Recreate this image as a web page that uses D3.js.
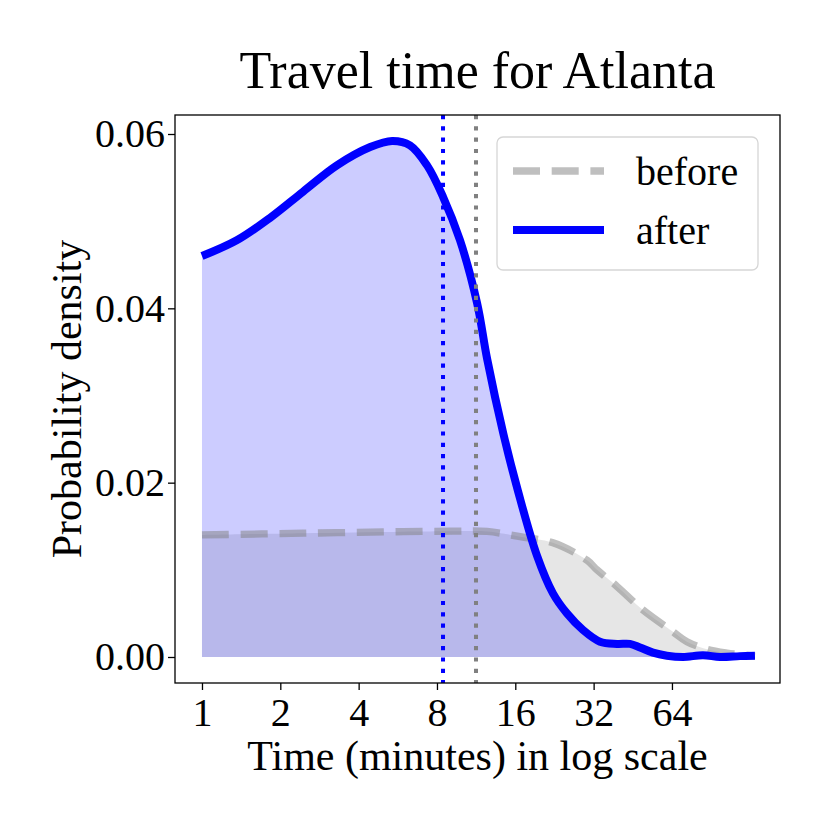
<!DOCTYPE html>
<html>
<head>
<meta charset="utf-8">
<script src="https://cdn.jsdelivr.net/npm/d3@7"></script>
<style>
  body { margin: 0; background: #fff; }
  text { font-family: "Liberation Serif", "DejaVu Serif", serif; fill: #000; }
</style>
</head>
<body>
<div id="chart"></div>
<script>
// travel time (minutes) and density
const afterTime = [1, 1.36, 1.83, 2.45, 3.30, 4.43, 5.38, 6.30, 7.33, 8.44, 9.81, 11.41, 12.47, 14.4, 16.4,
    19.4, 22.33, 25.28, 29.13, 33.85, 39.35, 44.14, 48.23, 54.1, 61.2, 70.6, 84.2, 97.9, 116.8, 133.4];
const afterDensity = [0.0460, 0.0478, 0.0504, 0.0534, 0.0564, 0.0585, 0.0592, 0.0587, 0.0564, 0.0528, 0.0478, 0.0406, 0.0342, 0.0256, 0.0190,
    0.0116, 0.0073, 0.0050, 0.0031, 0.00176, 0.0015, 0.0015, 0.0011, 0.0005, 0.00015, 0.0, 0.0002, 0.0, 0.0001, 0.00015];

const beforeTime = [1, 2.45, 5.92, 9.2, 12.47, 16.7, 22.33, 30.2, 32.96, 39.35, 49.5, 64.6, 73.1, 87.2, 104.1, 133.4];
const beforeDensity = [0.0140, 0.0142, 0.01438, 0.01443, 0.0144, 0.0138, 0.0131, 0.0111, 0.0100, 0.0081, 0.0054, 0.0029, 0.00176, 0.0009, 0.00046, 0.0001];

// dotted vertical markers (minutes)
const afterMarker = 8.44;
const beforeMarker = 11.3;

const xTicks = [1, 2, 4, 8, 16, 32, 64];
const yTicks = [0, 0.02, 0.04, 0.06];
const seriesNames = ["before", "after"];

const W = 830, H = 830;
const plot = {left: 175, right: 780, top: 115, bottom: 683};

const svg = d3.select("#chart").append("svg")
    .attr("width", W)
    .attr("height", H);

const x = d3.scaleLog().base(2)
    .domain([0.7876, 166.5])
    .range([plot.left, plot.right]);
const y = d3.scaleLinear()
    .domain([-0.002983, 0.06218])
    .range([plot.bottom, plot.top]);

const before = beforeTime.map((t, i) => ({t: t, v: beforeDensity[i]}));
const after = afterTime.map((t, i) => ({t: t, v: afterDensity[i]}));

const smooth = d3.curveCatmullRom.alpha(0.5);
const area = d3.area()
    .x(d => x(d.t))
    .y0(y(0))
    .y1(d => y(d.v))
    .curve(smooth);
const line = d3.line()
    .x(d => x(d.t))
    .y(d => y(d.v))
    .curve(smooth);

const g = svg.append("g");

// fills
g.append("path").datum(before)
    .attr("d", area)
    .attr("fill", "gray").attr("fill-opacity", 0.2);
g.append("path").datum(after)
    .attr("d", area)
    .attr("fill", "blue").attr("fill-opacity", 0.2);

// lines
g.append("path").datum(before)
    .attr("d", line)
    .attr("fill", "none")
    .attr("stroke", "gray").attr("stroke-opacity", 0.5)
    .attr("stroke-width", 7.3)
    .attr("stroke-dasharray", "27,11.7");
g.append("path").datum(after)
    .attr("d", line)
    .attr("fill", "none")
    .attr("stroke", "blue")
    .attr("stroke-width", 8)
    .attr("stroke-linejoin", "round");

// median markers
[[afterMarker, "blue"], [beforeMarker, "gray"]].forEach(m => {
    g.append("line")
        .attr("x1", x(m[0])).attr("x2", x(m[0]))
        .attr("y1", plot.top).attr("y2", plot.bottom)
        .attr("stroke", m[1])
        .attr("stroke-width", 4)
        .attr("stroke-dasharray", "4.2,7.1");
});

// axes
const xAxis = d3.axisBottom(x)
    .tickValues(xTicks)
    .tickFormat(d3.format("d"))
    .tickSize(7)
    .tickPadding(8);
const yAxis = d3.axisLeft(y)
    .tickValues(yTicks)
    .tickFormat(d3.format(".2f"))
    .tickSize(7)
    .tickPadding(3);

const gx = svg.append("g")
    .attr("transform", `translate(0, ${plot.bottom})`)
    .call(xAxis);
const gy = svg.append("g")
    .attr("transform", `translate(${plot.left}, 0)`)
    .call(yAxis);

[gx, gy].forEach(a => {
    a.select(".domain").remove();
    a.selectAll(".tick line").attr("stroke", "#000").attr("stroke-width", 1.3);
    a.selectAll(".tick text")
        .style("font-family", '"Liberation Serif", serif')
        .style("font-size", "40px")
        .attr("fill", "#000");
});

// frame
svg.append("rect")
    .attr("x", plot.left).attr("y", plot.top)
    .attr("width", plot.right - plot.left)
    .attr("height", plot.bottom - plot.top)
    .attr("fill", "none")
    .attr("stroke", "#000")
    .attr("stroke-width", 1.3);

// title and labels
const midX = (plot.left + plot.right) / 2;
svg.append("text")
    .attr("x", midX).attr("y", 88)
    .attr("text-anchor", "middle")
    .style("font-size", "52px")
    .text("Travel time for Atlanta");
svg.append("text")
    .attr("x", midX).attr("y", 770)
    .attr("text-anchor", "middle")
    .style("font-size", "42px")
    .text("Time (minutes) in log scale");
svg.append("text")
    .attr("transform", `translate(81, ${(plot.top + plot.bottom) / 2}) rotate(-90)`)
    .attr("text-anchor", "middle")
    .style("font-size", "42px")
    .text("Probability density");

// legend
const legend = svg.append("g").attr("transform", "translate(497, 137)");
legend.append("rect")
    .attr("width", 261).attr("height", 133)
    .attr("rx", 6)
    .attr("fill", "#fff").attr("fill-opacity", 0.8)
    .attr("stroke", "#d6d6d6").attr("stroke-width", 1.3);

const legendStyle = {
    before: {stroke: "gray", opacity: 0.5, width: 7.3, dash: "27,11.7"},
    after: {stroke: "blue", opacity: 1, width: 8, dash: null}
};
seriesNames.forEach((name, i) => {
    let s = legendStyle[name];
    let ly = 34 + i * 59;
    legend.append("line")
        .attr("x1", 16).attr("x2", 107)
        .attr("y1", ly).attr("y2", ly)
        .attr("stroke", s.stroke)
        .attr("stroke-opacity", s.opacity)
        .attr("stroke-width", s.width)
        .attr("stroke-dasharray", s.dash);
    legend.append("text")
        .attr("x", 139).attr("y", ly + 14)
        .style("font-size", "40px")
        .text(name);
});
</script>
</body>
</html>
